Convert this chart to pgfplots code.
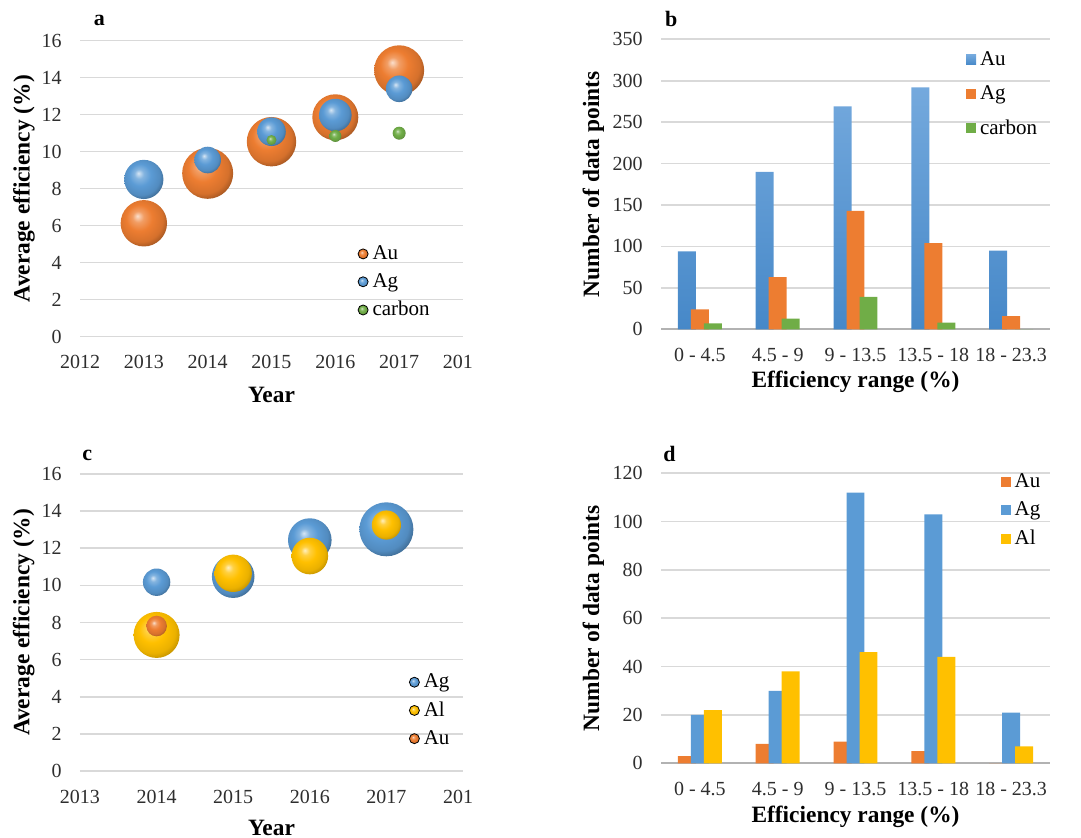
\documentclass[border=0pt]{standalone}
\usepackage{fontspec}
\setmainfont{Liberation Serif}
\usepackage{pgfplots}
\usepackage{pgfplotstable}
\pgfplotsset{compat=1.18}

\definecolor{auc}{HTML}{ED7D31}
\definecolor{agc}{HTML}{5B9BD5}
\definecolor{cc}{HTML}{70AD47}
\definecolor{alc}{HTML}{FFC000}
\definecolor{gridc}{HTML}{D9D9D9}
\definecolor{aubtop}{RGB}{116,169,221}
\definecolor{aubbot}{RGB}{70,136,200}

\pgfdeclareradialshading{shAu}{\pgfpoint{-7bp}{8bp}}{color(0bp)=(auc!25!white); color(6bp)=(auc!75!white); color(14bp)=(auc); color(24bp)=(auc!90!black); color(32bp)=(auc!60!black); color(50bp)=(auc!50!black)}
\pgfdeclareradialshading{shAg}{\pgfpoint{-7bp}{8bp}}{color(0bp)=(agc!25!white); color(6bp)=(agc!75!white); color(14bp)=(agc); color(24bp)=(agc!90!black); color(32bp)=(agc!60!black); color(50bp)=(agc!50!black)}
\pgfdeclareradialshading{shC}{\pgfpoint{-7bp}{8bp}}{color(0bp)=(cc!25!white); color(6bp)=(cc!75!white); color(14bp)=(cc); color(24bp)=(cc!90!black); color(32bp)=(cc!60!black); color(50bp)=(cc!50!black)}
\pgfdeclareradialshading{shAl}{\pgfpoint{-7bp}{8bp}}{color(0bp)=(alc!25!white); color(6bp)=(alc!75!white); color(14bp)=(alc); color(24bp)=(alc!92!black); color(32bp)=(alc!70!black); color(50bp)=(alc!55!black)}

\pgfdeclareplotmark{mAu}{\pgfpathcircle{\pgfpointorigin}{\pgfplotmarksize}\pgfshadepath{shAu}{0}\pgfusepath{discard}}
\pgfdeclareplotmark{mAg}{\pgfpathcircle{\pgfpointorigin}{\pgfplotmarksize}\pgfshadepath{shAg}{0}\pgfusepath{discard}}
\pgfdeclareplotmark{mC}{\pgfpathcircle{\pgfpointorigin}{\pgfplotmarksize}\pgfshadepath{shC}{0}\pgfusepath{discard}}
\pgfdeclareplotmark{mAl}{\pgfpathcircle{\pgfpointorigin}{\pgfplotmarksize}\pgfshadepath{shAl}{0}\pgfusepath{discard}}

% ---------- data ----------
\pgfplotstableread{
x y r
2013 6.13 11.6
2014 8.83 12.75
2015 10.54 12.35
2016 11.86 11.5
2017 14.4 12.5
}\aAu
\pgfplotstableread{
x y r
2013 8.5 9.8
2014 9.55 6.65
2015 11.08 7.15
2016 11.98 8.15
2017 13.4 6.65
}\aAg
\pgfplotstableread{
x y r
2015 10.63 2.5
2016 10.85 3
2017 11.0 3.25
}\aC
\pgfplotstableread{
x y r
2014 10.17 6.85
2015 10.47 10.65
2016 12.44 10.9
2017 13.02 13.5
}\cAg
\pgfplotstableread{
x y r
2014 7.33 11.5
2015 10.65 9.35
2016 11.58 9.15
2017 13.25 7.3
}\cAl
\pgfplotstableread{
x y r
2014 7.81 5.15
}\cAu
\pgfplotstableread{
i au ag c
0 94 24 7
1 190 63 13
2 269 143 39
3 292 104 8
4 95 16 0
}\bdata
\pgfplotstableread{
i au ag al
0 3 20 22
1 8 30 38
2 9 112 46
3 5 103 44
4 0 21 7
}\ddata

\pgfplotsset{
  base/.style={
    scale only axis,
    axis line style={draw=none},
    major tick length=0pt,
    ymajorgrids,
    grid style={gridc, line width=0.8pt},
    tick label style={font=\fontsize{10}{12}\selectfont, text=black!82},
    /pgf/number format/assume math mode=true,
    yticklabel style={inner sep=0pt, xshift=-9pt},
    xticklabel style={inner sep=0pt, anchor=center},
    label style={font=\bfseries\fontsize{11.7}{14}\selectfont},
    legend cell align=left,
    legend style={draw=none, fill=none, inner sep=0pt, outer sep=0pt,
      font=\fontsize{10.5}{12}\selectfont, column sep=0pt,
      nodes={inner xsep=2pt, inner ysep=0.5pt}},
  },
  bubble/.style={only marks, scatter, mark=m#1,
    visualization depends on={\thisrow{r} \as \rad},
    scatter/@pre marker code/.append style={/tikz/mark size=\rad},
    legend image code/.code={\shade[shading=sh#1] (2.5pt,0pt) circle (2.5pt);}},
  sqleg/.style={legend image code/.code={\fill[#1] (0pt,-2.5pt) rectangle (5pt,2.5pt);}},
  barcats/.style={xmin=-0.5, xmax=4.5, xtick={0,1,2,3,4},
    xticklabels={0 - 4.5, 4.5 - 9, 9 - 13.5, 13.5 - 18, 18 - 23.3},
    xlabel={Efficiency range (\%)}, ylabel={Number of data points}},
}

\begin{document}
\begin{tikzpicture}
\useasboundingbox (0pt,0pt) rectangle (540.5pt,419pt);

% ---------------- a ----------------
\begin{axis}[base, at={(40pt,250.65pt)}, anchor=south west,
  width=191.5pt, height=148pt, clip=false,
  xmin=2012, xmax=2018, ymin=0, ymax=16, ytick={0,2,...,16},
  xtick={2012,2013,2014,2015,2016,2017,2018},
  xticklabels={2012,2013,2014,2015,2016,2017,{\rlap{201}\phantom{2018}}},
  xticklabel style={yshift=-12.5pt},
  xlabel={Year}, ylabel={Average efficiency (\%)},
  xlabel style={at={([yshift=-29pt]axis description cs:0.5,0)}, anchor=center},
  ylabel style={at={([xshift=-28pt]axis description cs:0,0.5)}, anchor=center},
  legend style={at={([xshift=138.85pt,yshift=46.1pt]axis description cs:0,0)}, anchor=north west, row sep=4.5pt}]
\addplot[bubble=Au] table {\aAu};
\addlegendentry{\vphantom{Ag}Au}
\addplot[bubble=Ag] table {\aAg};
\addlegendentry{\vphantom{Ag}Ag}
\addplot[bubble=C] table {\aC};
\addlegendentry{\vphantom{Ag}carbon}
\end{axis}

% ---------------- b ----------------
\begin{axis}[base, barcats, at={(330.5pt,254.35pt)}, anchor=south west,
  width=194.5pt, height=145pt,
  ymin=0, ymax=350, ytick={0,50,...,350},
  xticklabel style={yshift=-12.85pt},
  xlabel style={at={([yshift=-26.2pt]axis description cs:0.5,0)}, anchor=center},
  ylabel style={at={([xshift=-33.8pt]axis description cs:0,0.5)}, anchor=center},
  legend style={at={([xshift=152.5pt,yshift=139.4pt]axis description cs:0,0)}, anchor=north west, row sep=7.6pt}]
\draw[black!30, line width=0.8pt] (axis cs:-0.5,0) -- (axis cs:4.5,0);
\addplot[ybar, bar width=0.231, bar shift=-0.167, draw=none, top color=aubtop, bottom color=aubbot, sqleg=agc] table[x=i, y=au] {\bdata};
\addlegendentry{\vphantom{Ag}Au}
\addplot[ybar, bar width=0.231, bar shift=0, draw=none, fill=auc, sqleg=auc] table[x=i, y=ag] {\bdata};
\addlegendentry{\vphantom{Ag}Ag}
\addplot[ybar, bar width=0.231, bar shift=0.167, draw=none, fill=cc, sqleg=cc] table[x=i, y=c] {\bdata};
\addlegendentry{\vphantom{Ag}carbon}
\end{axis}

% ---------------- c ----------------
\begin{axis}[base, at={(40pt,33.5pt)}, anchor=south west,
  width=191.5pt, height=148.5pt, clip=false,
  xmin=2013, xmax=2018, ymin=0, ymax=16, ytick={0,2,...,16},
  xtick={2013,2014,2015,2016,2017,2018},
  xticklabels={2013,2014,2015,2016,2017,{\rlap{201}\phantom{2018}}},
  xticklabel style={yshift=-12.85pt},
  xlabel={Year}, ylabel={Average efficiency (\%)},
  xlabel style={at={([yshift=-28.5pt]axis description cs:0.5,0)}, anchor=center},
  ylabel style={at={([xshift=-28.1pt]axis description cs:0,0.5)}, anchor=center},
  legend style={at={([xshift=164.5pt,yshift=49.1pt]axis description cs:0,0)}, anchor=north west, row sep=4.5pt}]
\addplot[bubble=Ag] table {\cAg};
\addlegendentry{\vphantom{Ag}Ag}
\addplot[bubble=Al] table {\cAl};
\addlegendentry{\vphantom{Ag}Al}
\addplot[bubble=Au] table {\cAu};
\addlegendentry{\vphantom{Ag}Au}
\end{axis}

% ---------------- d ----------------
\begin{axis}[base, barcats, at={(330.5pt,37.35pt)}, anchor=south west,
  width=194.5pt, height=145pt,
  ymin=0, ymax=120, ytick={0,20,...,120},
  xticklabel style={yshift=-13pt},
  xlabel style={at={([yshift=-26.7pt]axis description cs:0.5,0)}, anchor=center},
  ylabel style={at={([xshift=-33.8pt]axis description cs:0,0.5)}, anchor=center},
  legend style={at={([xshift=169.85pt,yshift=145.25pt]axis description cs:0,0)}, anchor=north west, row sep=4.7pt}]
\draw[black!30, line width=0.8pt] (axis cs:-0.5,0) -- (axis cs:4.5,0);
\addplot[ybar, bar width=0.231, bar shift=-0.167, draw=none, fill=auc, sqleg=auc] table[x=i, y=au] {\ddata};
\addlegendentry{\vphantom{Ag}Au}
\addplot[ybar, bar width=0.231, bar shift=0, draw=none, fill=agc, sqleg=agc] table[x=i, y=ag] {\ddata};
\addlegendentry{\vphantom{Ag}Ag}
\addplot[ybar, bar width=0.231, bar shift=0.167, draw=none, fill=alc, sqleg=alc] table[x=i, y=al] {\ddata};
\addlegendentry{\vphantom{Ag}Al}
\end{axis}

% panel letters
\node[font=\bfseries\fontsize{11}{13}\selectfont, inner sep=0pt] at (49.7pt,408.6pt) {a};
\node[font=\bfseries\fontsize{11}{13}\selectfont, inner sep=0pt] at (335.6pt,409.4pt) {b};
\node[font=\bfseries\fontsize{11}{13}\selectfont, inner sep=0pt] at (43.6pt,191.4pt) {c};
\node[font=\bfseries\fontsize{11}{13}\selectfont, inner sep=0pt] at (334.7pt,192.2pt) {d};
\end{tikzpicture}
\end{document}
